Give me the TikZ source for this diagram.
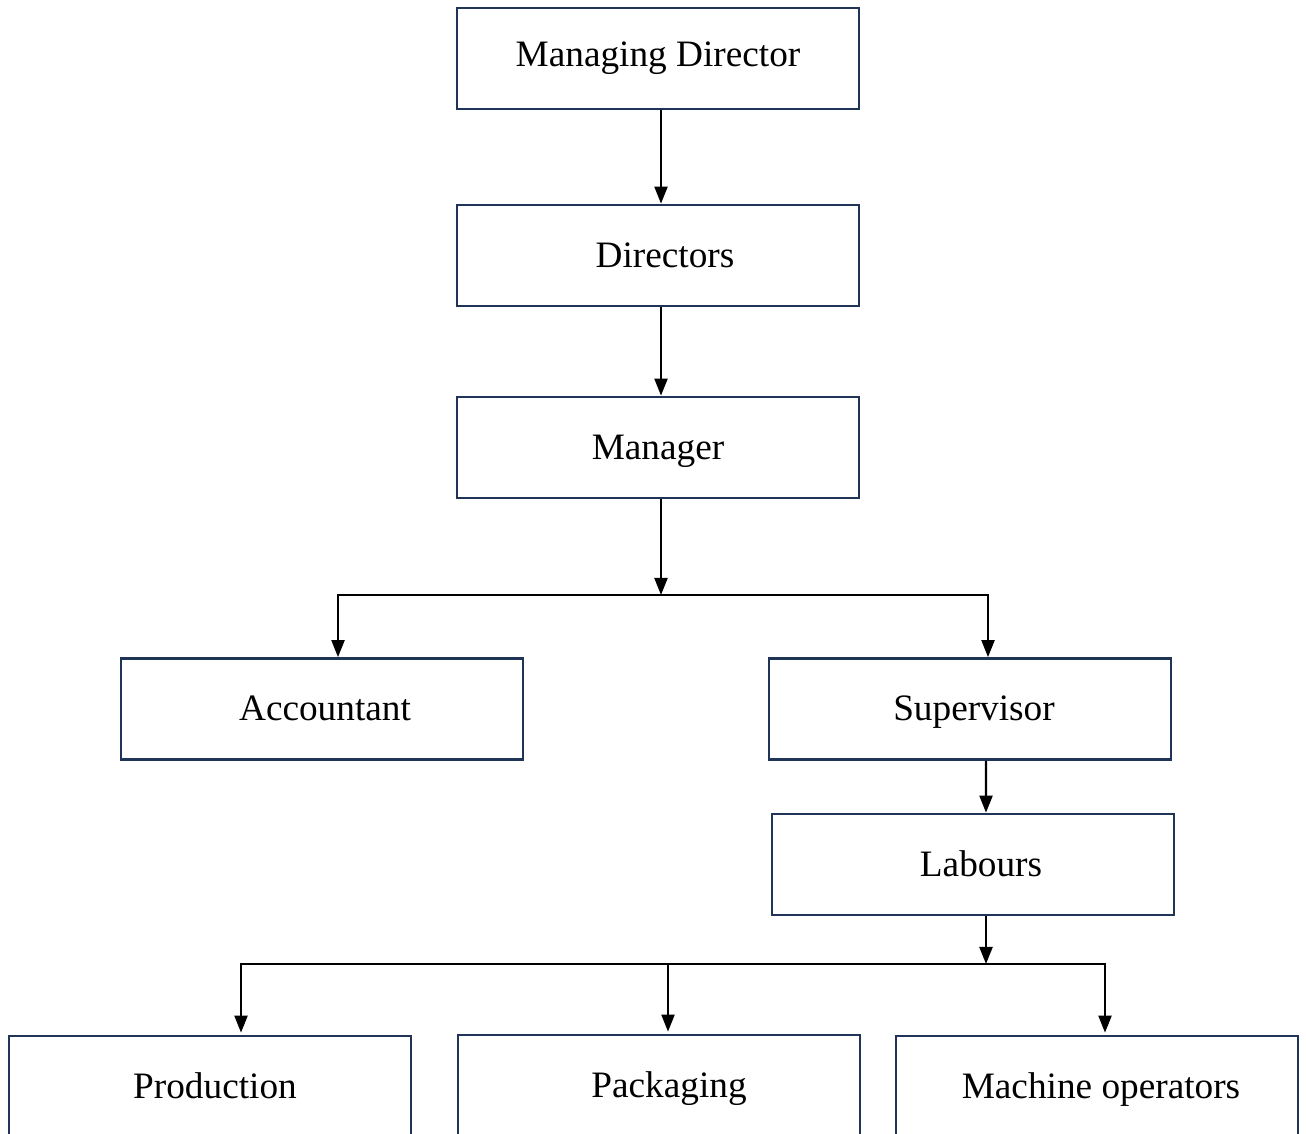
\documentclass[tikz,border=0pt]{standalone}
\usepackage{fontspec}
\setmainfont{Liberation Serif}
\usetikzlibrary{arrows.meta}
\definecolor{boxnavy}{RGB}{32,52,88}

\tikzset{
  post/.style={draw=boxnavy,line width=0.75pt,fill=white,minimum width=4.02cm,minimum height=1.01cm,
    inner sep=0pt,text height=0.8em,text depth=0.13em,font=\fontsize{10.6}{13}\selectfont},
  arr/.style={-{Triangle[length=0.17cm,width=0.13cm]},line width=0.6pt,black}
}

\begin{document}
\begin{tikzpicture}[x=0.01cm,y=-0.01cm,line join=miter]
  \useasboundingbox (0,0) rectangle (1306,1134);
  % top of the chain
  \node[post,text height=0.68em,text depth=0.22em] (md) at (658,58.5) {Managing Director};
  \node[post] (dir) at (658,255.5) {\hspace*{0.14cm}Directors};
  \node[post] (mgr) at (658,447.5) {Manager};
  \node[post] (acc) at (322,709) {\hspace*{0.06cm}Accountant};
  \node[post] (sup) at (970,709) {\hspace*{0.08cm}Supervisor};
  \node[post] (lab) at (973,864.5) {\hspace*{0.16cm}Labours};
  % bottom row
  \node[post] (prod) at (210,1086.5) {\hspace*{0.1cm}Production};
  \node[post] (pack) at (659,1085.5) {\hspace*{0.2cm}Packaging};
  \node[post] (mach) at (1097,1086.5) {\hspace*{0.08cm}Machine operators};
  \coordinate (j1) at (661,595); \coordinate (j2) at (986,964);
  \draw[arr] ([xshift=0.03cm]md.south) -- ([xshift=0.03cm]dir.north);
  \draw[arr] ([xshift=0.03cm]dir.south) -- ([xshift=0.03cm]mgr.north);
  \draw[arr] (mgr.south -| j1) -- (j1);
  \draw[arr] (j1) -| ([xshift=0.16cm]acc.north);
  \draw[arr] (j1) -| ([xshift=0.18cm]sup.north);
  \draw[arr] ([xshift=0.16cm]sup.south) -- (lab.north -| j2);
  \draw[arr] (lab.south -| j2) -- (j2);
  \foreach \b/\s in {prod/0.31,pack/0.09,mach/0.08}
    \draw[arr] (j2) -| ([xshift=\s cm,yshift=0.02cm]\b.north);
\end{tikzpicture}
\end{document}
